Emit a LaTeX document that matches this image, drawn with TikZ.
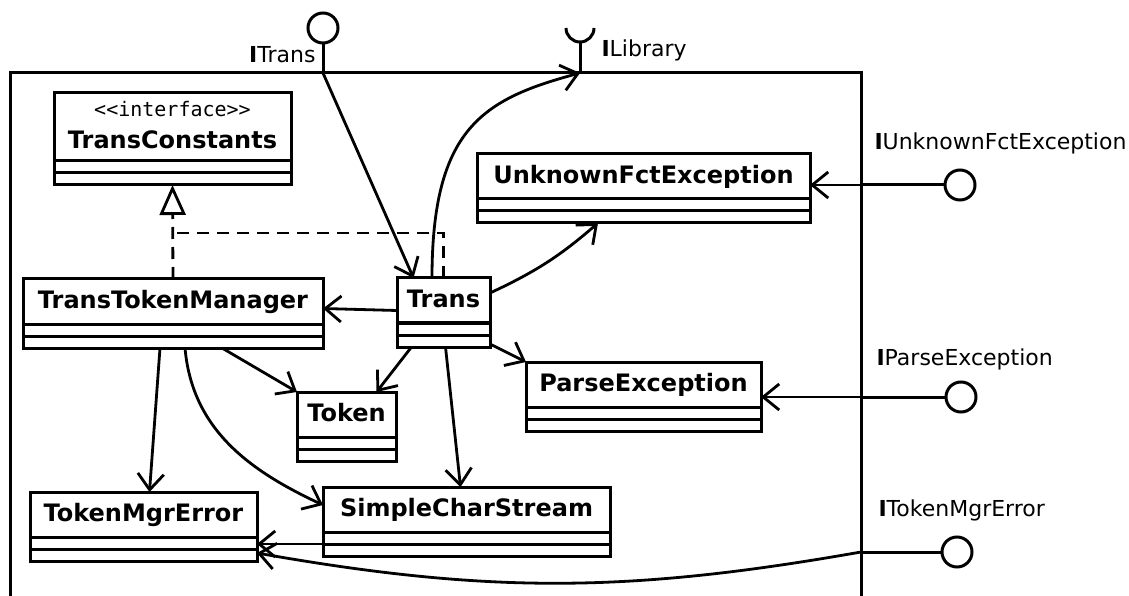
\documentclass[tikz,border=0pt]{standalone}
\usepackage{fontspec}
\setmainfont{DejaVu Sans}
\setmonofont{DejaVu Sans Mono}
\usetikzlibrary{positioning,arrows.meta}

% a class: [title options], name, title centre, width, title text
\newcommand{\umlclass}[5][]{%
  \node[clstitle, minimum width=#4, #1] (#2) at (#3) {#5};
  \node[clscomp, minimum width=#4, below=0pt of #2] (#2-a) {};
  \node[clscomp, minimum width=#4, below=0pt of #2-a] (#2-b) {};}
\newcommand{\clsname}[1]{\rule[-3pt]{0pt}{13.3pt}\bfseries #1}

\begin{document}
\begin{tikzpicture}[x=0.5pt, y=0.5pt, line width=1.5pt,
    clstitle/.style={draw, fill=white, outer sep=0pt, inner sep=0pt, minimum height=22.5pt,
      font=\fontsize{12}{14}\selectfont},
    clscomp/.style={draw, fill=white, outer sep=0pt, inner sep=0pt, minimum height=6pt},
    dep/.style={-{Straight Barb[length=8pt,width=13pt]}, line width=1.4pt},
    realize/.style={dash pattern=on 6pt off 4pt, line width=1.4pt},
    lolli/.style={circle, draw, fill=white, minimum size=15pt, inner sep=0pt},
    iface/.style={inner sep=0pt, font=\fontsize{11}{13}\selectfont}]
  \clip (0,0) rectangle (1129,595);

  % component frame, open at the bottom
  \draw (10,-10) -- (10,522) -- (861,522) -- (861,-10);

  % classes
  \umlclass[minimum height=34pt]{tc}{172.5,468}{118.5pt}{\begin{tabular}{@{}c@{}}\rule{0pt}{8.4pt}{\ttfamily\fontsize{10}{12}\selectfont <{}<interface>{}>}\\[2pt]
      \bfseries TransConstants\end{tabular}}
  \umlclass{ttm}{173,293.5}{150pt}{\clsname{TransTokenManager}}
  \umlclass{trans}{443.5,294.5}{46.5pt}{\clsname{Trans}}
  \umlclass{ufe}{643.5,418.5}{166.5pt}{\clsname{UnknownFctException}}
  \umlclass{pe}{643.5,210.5}{117.5pt}{\clsname{ParseException}}
  \umlclass{token}{346.5,180.5}{49.5pt}{\clsname{Token}}
  \umlclass{tme}{143.5,80.5}{113.5pt}{\clsname{TokenMgrError}}
  \umlclass{scs}{466.5,85.5}{143.5pt}{\clsname{SimpleCharStream}}

  % ports on the frame
  \coordinate (ptrans) at (323,522); \coordinate (plib) at (580,522);
  \coordinate (pufe) at (861,410); \coordinate (ppe) at (861,198);
  \coordinate (ptme) at (861,43);

  % provided interfaces
  \node[lolli] (itrans) at (323,567) {};
  \node[lolli] (iufe) at (960,410) {};
  \node[lolli] (ipe) at (961,198) {};
  \node[lolli] (itme) at (957,43) {};
  \draw (itrans) -- (ptrans);
  \draw (pufe) -- (iufe);
  \draw (ppe) -- (ipe);
  \draw (ptme) -- (itme);

  % required interface (socket)
  \coordinate (ilib) at (580,553);
  \draw (plib) -- (ilib);
  \draw ([shift={(-7pt,7pt)}]ilib) arc[start angle=180, end angle=360, radius=7pt];

  \node[iface, anchor=east] (ltrans) at (317,540) {{\bfseries I}Trans};
  \node[iface, anchor=west] (llib) at (600,545) {{\bfseries I}Library};
  \node[iface, anchor=west] (lufe) at (873,452) {{\bfseries I}UnknownFctException};
  \node[iface, anchor=west] (lpe) at (875,236) {{\bfseries I}ParseException};
  \node[iface, anchor=west] (ltme) at (877,85) {{\bfseries I}TokenMgrError};

  % realization of TransConstants
  \coordinate (rz) at (174,362);
  \draw[realize, -{Triangle[open, length=15pt, width=13pt]}] (ttm.north) -- (tc-b.south);
  \draw[realize] (trans.north) |- (rz);

  % dependencies
  \draw[dep] (ptrans) -- ([xshift=-15pt]trans.north);
  \draw[dep] ([xshift=-5.75pt]trans.north) .. controls +(0,150) and +(-96.6,-26) .. (plib);
  \draw[dep] ([yshift=-5pt]trans.west) -- ([yshift=-3.5pt]ttm.east);
  \draw[dep] ([yshift=-7.5pt]trans.north east) to[bend right=8] ([xshift=-22.75pt]ufe-b.south);
  \draw[dep] ([yshift=1.5pt]trans-b.south east) -- (pe.north west);
  \draw[dep] ([xshift=-16pt]trans-b.south) -- ([xshift=15pt]token.north);
  \draw[dep] ([xshift=1pt]trans-b.south) -- ([xshift=-3pt]scs.north);
  \draw[dep] ([xshift=-6.5pt]ttm-b.south) -- ([xshift=3pt]tme.north);
  \draw[dep] ([xshift=6pt]ttm-b.south) to[out=-85, in=155] ([yshift=2.25pt]scs.west);
  \draw[dep] ([xshift=24.5pt]ttm-b.south) -- (token.north west);
  \draw[dep] ([yshift=-17.25pt]scs.west) -- ([yshift=-14.75pt]tme.east);
  \draw[dep] (pufe) -- ([yshift=-4.25pt]ufe.east);
  \draw[dep] (ppe) -- ([yshift=-6.25pt]pe.east);
  \draw[dep] (ptme) to[out=190, in=-10] ([yshift=-19.25pt]tme.east);
\end{tikzpicture}
\end{document}
